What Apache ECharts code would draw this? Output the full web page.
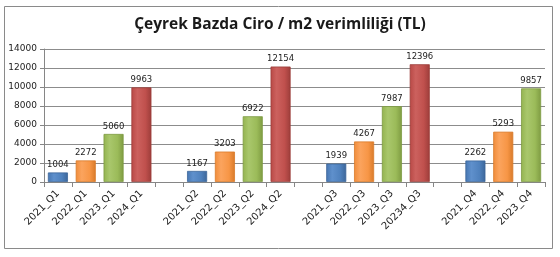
<!DOCTYPE html>
<html><head><meta charset="utf-8">
<script src="https://cdn.jsdelivr.net/npm/echarts@6/dist/echarts.min.js"></script>
<style>html,body{margin:0;padding:0;background:#fff}#c{width:560px;height:257px}</style>
</head><body><div id="c"></div>
<script>
const categories = ['2021_Q1','2022_Q1','2023_Q1','2024_Q1','','2021_Q2','2022_Q2','2023_Q2','2024_Q2','','2021_Q3','2022_Q3','2023_Q3','20234_Q3','','2021_Q4','2022_Q4','2023_Q4'];
const values = [1004,2272,5060,9963,null,1167,3203,6922,12154,null,1939,4267,7987,12396,null,2262,5293,9857];
const yearOfBar = ['2021','2022','2023','2024',null,'2021','2022','2023','2024',null,'2021','2022','2023','2024',null,'2021','2022','2023'];
const yTicks = [0,2000,4000,6000,8000,10000,12000,14000];

const palette = {
  '2021': ['#4676B2','#5F90CC','#4F81BD','#3C6699'],
  '2022': ['#F08C3A','#FBA45E','#F79646','#D87A2A'],
  '2023': ['#93B34F','#A9C76C','#9BBB59','#7E9B42'],
  '2024': ['#B84845','#CC615E','#C0504D','#9C3D3A']
};
function grad(y){
  const p = palette[y];
  return {type:'linear',x:0,y:0,x2:1,y2:0,colorStops:[
    {offset:0,color:p[0]},{offset:0.3,color:p[1]},{offset:0.7,color:p[2]},{offset:1,color:p[3]}]};
}
const data = values.map((v,i)=> v==null ? null : {value:v, itemStyle:{color:grad(yearOfBar[i]), borderColor:palette[yearOfBar[i]][3], borderWidth:0.8}});

const chart = echarts.init(document.getElementById('c'));
chart.setOption({
  animation:false,
  title:{text:'Çeyrek Bazda Ciro / m2 verimliliği (TL)', left:'center', top:12,
    textStyle:{fontFamily:'Open Sans', fontWeight:'bold', fontSize:15.5, color:'#1a1a1a'}},
  graphic:[{type:'rect', shape:{x:4.5,y:6.5,width:548,height:242}, style:{fill:'none',stroke:'#8a8a8a',lineWidth:1}, silent:true}],
  grid:{left:44, right:15, top:49, bottom:75},
  xAxis:{type:'category', data:categories,
    axisLine:{lineStyle:{color:'#868686'}},
    axisTick:{show:true, interval:0, length:5, lineStyle:{color:'#868686'}},
    axisLabel:{interval:0, rotate:45, fontFamily:'DejaVu Sans', fontSize:10, color:'#222', margin:10}},
  yAxis:{type:'value', min:yTicks[0], max:yTicks[yTicks.length-1], interval:yTicks[1]-yTicks[0],
    axisLine:{show:true, lineStyle:{color:'#868686'}},
    axisTick:{show:true, length:4, lineStyle:{color:'#868686'}},
    splitLine:{lineStyle:{color:'#8c8c8c'}},
    axisLabel:{fontFamily:'DejaVu Sans', fontSize:9, color:'#222', margin:7, formatter:v=>String(v)}},
  series:[{type:'bar', data:data, barCategoryGap:'28%',
    label:{show:true, position:'top', distance:3, fontFamily:'DejaVu Sans', fontSize:8.5, color:'#222'}}]
});
</script></body></html>
